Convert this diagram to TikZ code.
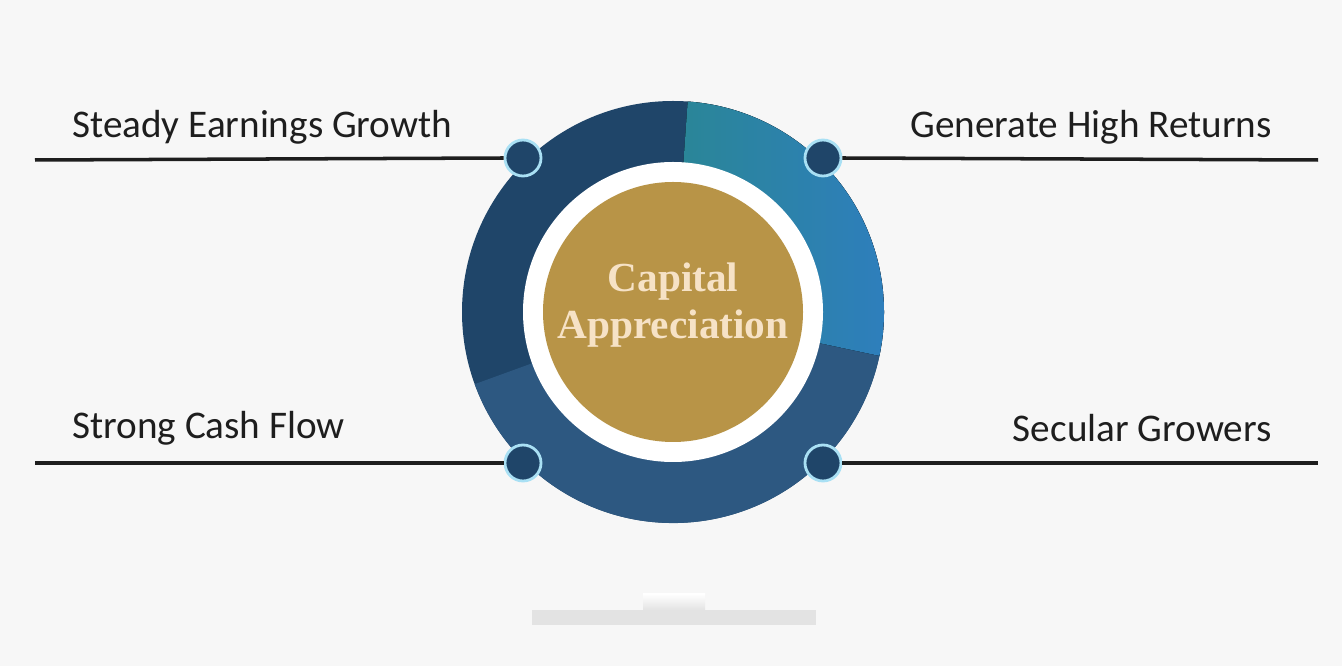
\documentclass[tikz,border=0pt]{standalone}
\usepackage{fontspec}
\setmainfont{Carlito}
\newfontfamily\capfont{Liberation Serif}
\usepackage{xcolor}
\definecolor{bgpaper}{HTML}{F7F7F7}
\definecolor{ringnavy}{HTML}{1F4569}
\definecolor{ringlow}{HTML}{2D5881}
\definecolor{ringteal}{HTML}{2A8696}
\definecolor{ringblue}{HTML}{2E7EBE}
\definecolor{dotrim}{HTML}{A9E0F4}
\definecolor{goldfill}{HTML}{B89447}
\definecolor{goldtext}{HTML}{F6E2C6}
\definecolor{labelink}{HTML}{1E1E1E}
\definecolor{barfill}{HTML}{E3E3E3}
\tikzset{
  label/.style={font=\fontsize{22.3}{26}\selectfont, text=labelink, inner sep=0pt},
  joint/.style={circle, draw=dotrim, line width=1.6pt, fill=ringnavy, minimum size=0.72cm, inner sep=0pt},
  leader/.style={draw=labelink, line width=2pt},
}
\begin{document}
\begin{tikzpicture}
\fill[bgpaper] (0,0) rectangle (26.84,-13.32);
\useasboundingbox (0,0) rectangle (26.84,-13.32);
% ring
\fill[ringnavy] (13.46,-6.24) circle (4.22);
\fill[ringlow] (13.46,-6.24) -- ++(200:4.22) arc (200:348:4.22) -- cycle;
\fill[left color=ringteal, right color=ringblue] (13.46,-6.24) -- ++(-12:4.22) arc (-12:86:4.22) -- cycle;
\fill[white] (13.46,-6.24) circle (3.0);
\node[circle, fill=goldfill, minimum size=5.2cm, inner sep=0pt] (core) at (13.46,-6.24) {};
\node[font=\capfont\bfseries\fontsize{23.5}{27}\selectfont, text=goldtext, align=center] (title) at (13.46,-6.1) {Capital\\Appreciation};
% joints
\node[joint] (jtl) at (10.46,-3.16) {};
\node[joint] (jtr) at (16.46,-3.16) {};
\node[joint] (jbl) at (10.46,-9.26) {};
\node[joint] (jbr) at (16.46,-9.26) {};
\coordinate (etl) at (0.7,-3.2);
\coordinate (etr) at (26.36,-3.2);
\coordinate (ebl) at (0.7,-9.26);
\coordinate (ebr) at (26.36,-9.26);
\draw[leader] (etl) -- (jtl.west);
\draw[leader] (jtr.east) -- (etr);
\draw[leader] (ebl) -- (jbl.west);
\draw[leader] (jbr.east) -- (ebr);
% labels
\node[label, anchor=west] (steady) at (1.44,-2.54) {Steady Earnings Growth};
\node[label, anchor=east] (returns) at (25.44,-2.54) {Generate High Returns};
\node[label, anchor=west] (cash) at (1.44,-8.56) {Strong Cash Flow};
\node[label, anchor=east] (secular) at (25.44,-8.56) {Secular Growers};
% stand
\fill[barfill] (10.64,-12.2) rectangle (16.32,-12.5);
\fill[top color=white, bottom color=barfill] (12.86,-11.88) rectangle (14.1,-12.2);
\end{tikzpicture}
\end{document}
